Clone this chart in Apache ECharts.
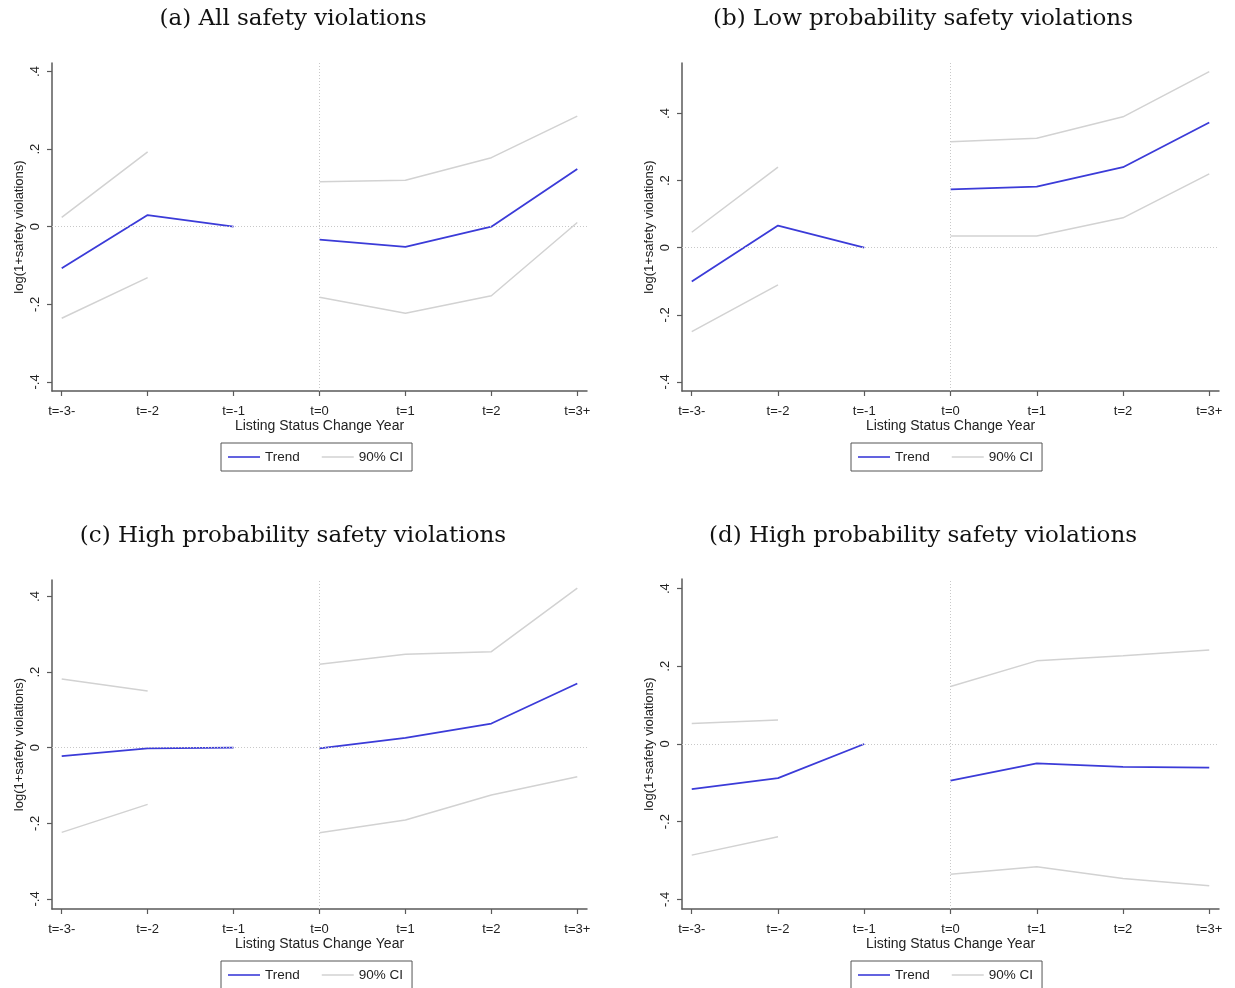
<!DOCTYPE html>
<html>
<head>
<meta charset="utf-8">
<script src="https://cdn.jsdelivr.net/npm/echarts@6/dist/echarts.min.js"></script>
<style>
  html, body { margin: 0; padding: 0; background: #fff; }
  #chart { width: 1235px; height: 988px; }
</style>
</head>
<body>
<div id="chart"></div>
<script>
// Event-study periods around the listing status change
const periods = ['t=-3-', 't=-2', 't=-1', 't=0', 't=1', 't=2', 't=3+'];
const yTicks = [-0.4, -0.2, 0, 0.2, 0.4];

// (a) All safety violations
const trendA = [-0.107, 0.030, 0, -0.033, -0.052, 0.000, 0.149];
const upperA = [0.024, 0.193, null, 0.116, 0.120, 0.178, 0.285];
const lowerA = [-0.236, -0.131, null, -0.182, -0.223, -0.178, 0.011];

// (b) Low probability safety violations
const trendB = [-0.101, 0.066, 0, 0.174, 0.182, 0.240, 0.373];
const upperB = [0.046, 0.240, null, 0.316, 0.326, 0.390, 0.525];
const lowerB = [-0.250, -0.111, null, 0.035, 0.035, 0.089, 0.220];

// (c) High probability safety violations
const trendC = [-0.022, -0.002, 0, -0.002, 0.026, 0.064, 0.170];
const upperC = [0.182, 0.150, null, 0.221, 0.247, 0.254, 0.422];
const lowerC = [-0.224, -0.150, null, -0.225, -0.191, -0.125, -0.077];

// (d) High probability safety violations
const trendD = [-0.116, -0.088, 0, -0.094, -0.050, -0.059, -0.061];
const upperD = [0.053, 0.062, null, 0.148, 0.214, 0.227, 0.242];
const lowerD = [-0.286, -0.239, null, -0.335, -0.316, -0.346, -0.365];

const panelTitles = [
  '(a) All safety violations',
  '(b) Low probability safety violations',
  '(c) High probability safety violations',
  '(d) High probability safety violations'
];

const BLUE = '#3b3bd8';
const GREY = '#d2d2d2';
const AXIS = '#5a5a5a';
const SANS = '"Liberation Sans", Arial, sans-serif';
const SERIF = '"DejaVu Serif", "Liberation Serif", serif';

const panels = [
  { title: panelTitles[0], trend: trendA, upper: upperA, lower: lowerA,
    grid: { left: 52, top: 63, width: 535, height: 328 }, yMin: -0.4234, yMax: 0.422, titleX: 293, titleY: 19 },
  { title: panelTitles[1], trend: trendB, upper: upperB, lower: lowerB,
    grid: { left: 682, top: 63, width: 537, height: 328 }, yMin: -0.4271, yMax: 0.5505, titleX: 923, titleY: 19 },
  { title: panelTitles[2], trend: trendC, upper: upperC, lower: lowerC,
    grid: { left: 52, top: 580, width: 535, height: 329 }, yMin: -0.4267, yMax: 0.4437, titleX: 293, titleY: 536 },
  { title: panelTitles[3], trend: trendD, upper: upperD, lower: lowerD,
    grid: { left: 682, top: 579, width: 537, height: 330 }, yMin: -0.4247, yMax: 0.4247, titleX: 923, titleY: 536 }
];

const tickIdx = periods.map((_, i) => i);
const fmtY = v => {
  const r = Math.round(v * 10) / 10;
  if (r === 0) return '0';
  return (r < 0 ? '-' : '') + String(Math.abs(r)).replace(/^0/, '');
};
const pts = (arr, from, to) => arr.slice(from, to).map((v, k) => [from + k, v]);

const grids = [], xAxes = [], yAxes = [], series = [], legends = [], graphics = [];

panels.forEach((p, i) => {
  grids.push(Object.assign({}, p.grid));

  xAxes.push({
    type: 'value', gridIndex: i, min: -0.113, max: 6.113,
    name: 'Listing Status Change Year', nameLocation: 'middle', nameGap: 28,
    nameTextStyle: { fontFamily: SANS, fontSize: 14, color: '#222' },
    axisLine: { onZero: false, lineStyle: { color: AXIS, width: 1.5 } },
    axisTick: { show: true, length: 5, lineStyle: { color: AXIS, width: 1.2 }, customValues: tickIdx },
    axisLabel: {
      customValues: tickIdx, margin: 14,
      formatter: v => periods[Math.round(v)] || '',
      fontFamily: SANS, fontSize: 13, color: '#222'
    },
    splitLine: { show: false }
  });

  yAxes.push({
    type: 'value', gridIndex: i, min: p.yMin, max: p.yMax,
    name: 'log(1+safety violations)', nameLocation: 'middle', nameGap: 26, nameRotate: 90,
    nameTextStyle: { fontFamily: SANS, fontSize: 13, color: '#222' },
    axisLine: { show: true, onZero: false, lineStyle: { color: AXIS, width: 1.5 } },
    axisTick: { show: true, length: 5, lineStyle: { color: AXIS, width: 1.2 }, customValues: yTicks },
    axisLabel: {
      customValues: yTicks, rotate: 90, margin: 10, formatter: fmtY,
      fontFamily: SANS, fontSize: 13, color: '#222'
    },
    splitLine: { show: false }
  });

  const base = { type: 'line', xAxisIndex: i, yAxisIndex: i, symbol: 'none', silent: true, animation: false };

  // confidence band edges (the reference year t=-1 has none, so the lines break there)
  series.push(Object.assign({}, base, {
    name: '90% CI', data: p.upper.map((v, k) => [k, v]), z: 2,
    lineStyle: { color: GREY, width: 1.5 }, itemStyle: { color: GREY },
    markLine: {
      silent: true, symbol: 'none', label: { show: false },
      lineStyle: { color: '#c8c8c8', type: [1, 2], width: 1 },
      data: [{ yAxis: 0 }, { xAxis: 3 }]
    }
  }));
  series.push(Object.assign({}, base, {
    name: '90% CI', data: p.lower.map((v, k) => [k, v]), z: 2,
    lineStyle: { color: GREY, width: 1.5 }, itemStyle: { color: GREY }
  }));

  // point estimates, drawn separately before and after the change
  series.push(Object.assign({}, base, {
    name: 'Trend', data: pts(p.trend, 0, 3), z: 3,
    lineStyle: { color: BLUE, width: 1.8 }, itemStyle: { color: BLUE }
  }));
  series.push(Object.assign({}, base, {
    name: 'Trend', data: pts(p.trend, 3, 7), z: 3,
    lineStyle: { color: BLUE, width: 1.8 }, itemStyle: { color: BLUE }
  }));

  legends.push({
    left: p.grid.left + 169, top: p.grid.top + p.grid.height + 52,
    orient: 'horizontal',
    data: [{ name: 'Trend', icon: 'rect' }, { name: '90% CI', icon: 'rect' }],
    itemWidth: 32, itemHeight: 1.6, itemGap: 22, itemTextGap: 9,
    padding: [7, 9, 7, 7], borderColor: '#555', borderWidth: 1,
    textStyle: { fontFamily: SANS, fontSize: 13.5, color: '#222' },
    selectedMode: false
  });

  graphics.push({
    type: 'text', x: p.titleX, y: p.titleY,
    style: {
      text: p.title, fill: '#111', font: '23px ' + SERIF,
      textAlign: 'center', textVerticalAlign: 'middle'
    }
  });
});

const chart = echarts.init(document.getElementById('chart'), null, { renderer: 'canvas' });
chart.setOption({
  backgroundColor: '#fff',
  animation: false,
  grid: grids,
  xAxis: xAxes,
  yAxis: yAxes,
  legend: legends,
  series: series,
  graphic: graphics
});
</script>
</body>
</html>
